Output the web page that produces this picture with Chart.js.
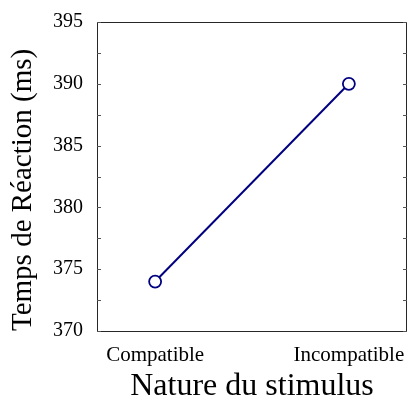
<!DOCTYPE html>
<html>
<head>
<meta charset="utf-8">
<script src="https://cdn.jsdelivr.net/npm/chart.js@4"></script>
<style>
html,body{margin:0;padding:0;background:#fff;}
#wrap{width:408px;height:398px;position:relative;}
</style>
</head>
<body>
<div id="wrap"><canvas id="c" width="408" height="398"></canvas></div>
<script>
const categories = ['Compatible', 'Incompatible'];
const categoryPositions = [1, 2];
const reactionTimes = [374, 390];
const yTicks = [370, 375, 380, 385, 390, 395];
const yMinorStep = 2.5;

const FONT = "'Liberation Serif', 'DejaVu Serif', serif";

const boxPlugin = {
  id: 'boxTicks',
  beforeDatasetsDraw(chart) {
    const {ctx, chartArea: a, scales} = chart;
    const y = scales.y;
    ctx.save();
    ctx.strokeStyle = '#262626';
    ctx.lineWidth = 1;
    ctx.strokeRect(Math.round(a.left) + 0.5, Math.round(a.top) + 0.5,
      Math.round(a.right - a.left) - 1, Math.round(a.bottom - a.top));
    ctx.strokeStyle = '#555';
    for (let v = yTicks[0]; v <= yTicks[yTicks.length - 1] + 1e-9; v += yMinorStep) {
      const py = Math.round(y.getPixelForValue(v)) + 0.5;
      ctx.beginPath();
      ctx.moveTo(a.left, py); ctx.lineTo(a.left + 4, py);
      ctx.moveTo(a.right, py); ctx.lineTo(a.right - 4, py);
      ctx.stroke();
    }
    ctx.restore();
  }
};

new Chart(document.getElementById('c'), {
  type: 'line',
  data: {
    datasets: [{
      data: categoryPositions.map((x, i) => ({x: x, y: reactionTimes[i]})),
      borderColor: '#000080',
      borderWidth: 2,
      pointRadius: 6,
      pointBorderWidth: 1.8,
      pointBackgroundColor: '#fff',
      pointBorderColor: '#000080',
      tension: 0,
      clip: false
    }]
  },
  options: {
    responsive: false,
    animation: false,
    devicePixelRatio: 1,
    layout: {autoPadding: false, padding: {top: 22, right: 1, left: 0, bottom: 0}},
    plugins: {legend: {display: false}, tooltip: {enabled: false}},
    scales: {
      x: {
        type: 'linear',
        min: 0.7, max: 2.3,
        afterBuildTicks(s) { s.ticks = categoryPositions.map(v => ({value: v})); },
        afterFit(s) { s.height = 67; s.paddingLeft = 0; s.paddingRight = 0; },
        grid: {display: false, drawTicks: false},
        border: {display: false},
        ticks: {
          callback: (v) => categories[categoryPositions.indexOf(v)] ?? '',
          font: {family: FONT, size: 21},
          color: '#000',
          padding: 12,
          maxRotation: 0,
          autoSkip: false
        },
        title: {
          display: true,
          text: 'Nature du stimulus',
          font: {family: FONT, size: 32},
          color: '#000',
          padding: {top: 8, bottom: -8}
        }
      },
      y: {
        min: 370, max: 395,
        afterBuildTicks(s) { s.ticks = yTicks.map(v => ({value: v})); },
        afterFit(s) { s.width = 97; s.paddingTop = 0; s.paddingBottom = 0; },
        grid: {display: false, drawTicks: false},
        border: {display: false},
        ticks: {
          font: {family: FONT, size: 20},
          color: '#000',
          padding: 14
        },
        title: {
          display: true,
          text: 'Temps de Réaction (ms)',
          align: 'start',
          font: {family: FONT, size: 29},
          color: '#000',
          padding: {top: 6, bottom: 0}
        }
      }
    }
  },
  plugins: [boxPlugin]
});
</script>
</body>
</html>
